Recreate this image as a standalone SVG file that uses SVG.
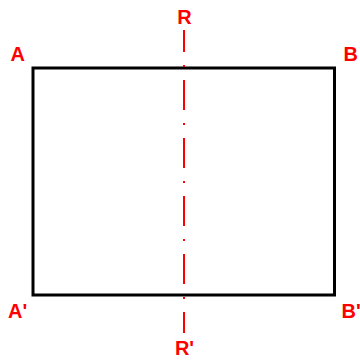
<svg xmlns="http://www.w3.org/2000/svg" width="360" height="361" viewBox="0 0 360 361">
<style>
.lbl{font-family:"Liberation Sans",Arial,sans-serif;font-weight:bold;font-size:20px;fill:#ff0000}
</style>
<rect width="360" height="361" fill="#fff"/>
<g id="rect"><rect x="33" y="68" width="301.5" height="227" fill="none" stroke="#000" stroke-width="3"/></g>
<g id="axis"><line x1="184" y1="30" x2="184" y2="333" stroke="#ff0000" stroke-width="2" stroke-dasharray="30 13 2 13" stroke-dashoffset="8"/></g>
<g id="labels">
<text class="lbl" x="10.5" y="61">A</text>
<text class="lbl" x="343.5" y="61">B</text>
<text class="lbl" x="184.5" y="24" text-anchor="middle">R</text>
<text class="lbl" x="8" y="318">A'</text>
<text class="lbl" x="341.5" y="318">B'</text>
<text class="lbl" x="184.5" y="355" text-anchor="middle">R'</text>
</g>
</svg>
